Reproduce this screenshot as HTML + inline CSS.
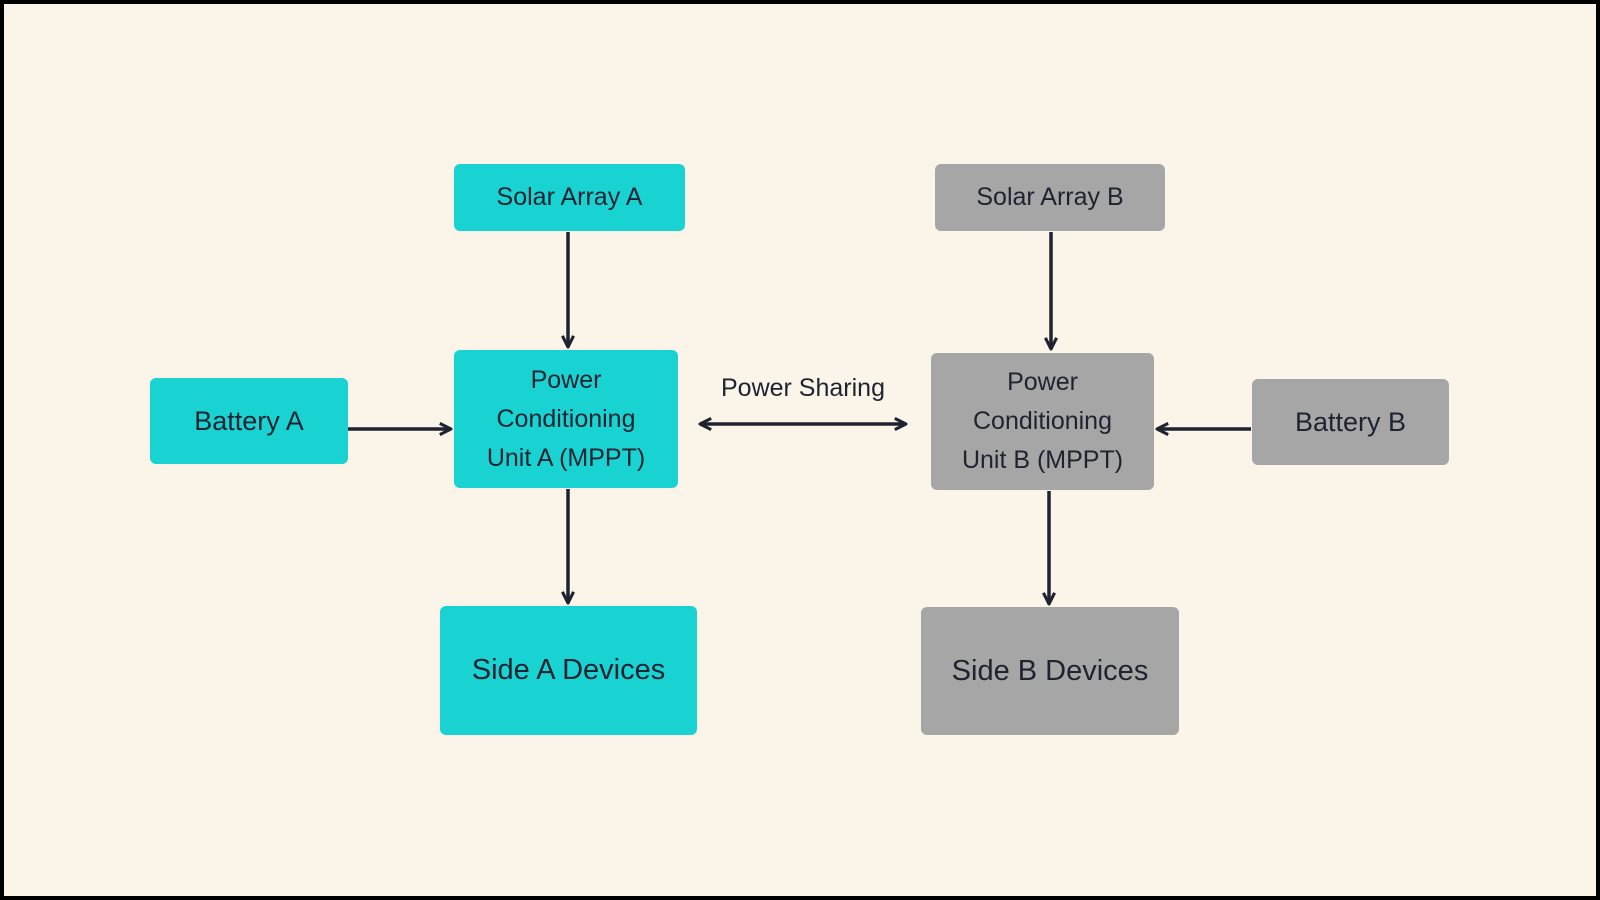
<!DOCTYPE html>
<html><head><meta charset="utf-8"><style>
body{margin:0;width:1600px;height:900px;overflow:hidden}
.f{position:absolute;left:0;top:0;width:1592px;height:892px;border:4px solid #000;background:#fbf4e9}
.b{position:absolute;display:flex;align-items:center;justify-content:center;text-align:center;border-radius:6px;font-family:"Liberation Sans",sans-serif;color:#1f2330;line-height:39px}
.c{background:#19d3d3}.g{background:#a6a6a6}
</style></head><body><div class="f"></div>
<div class="b c" style="left:454px;top:164px;width:231px;height:67px;font-size:25px">Solar Array A</div>
<div class="b g" style="left:935px;top:164px;width:230px;height:67px;font-size:25px">Solar Array B</div>
<div class="b c" style="left:150px;top:378px;width:198px;height:86px;font-size:27px">Battery A</div>
<div class="b g" style="left:1252px;top:379px;width:197px;height:86px;font-size:27px">Battery B</div>
<div class="b c" style="left:454px;top:350px;width:224px;height:138px;font-size:25px">Power<br>Conditioning<br>Unit A (MPPT)</div>
<div class="b g" style="left:931px;top:353px;width:223px;height:137px;font-size:25px">Power<br>Conditioning<br>Unit B (MPPT)</div>
<div class="b c" style="left:440px;top:606px;width:257px;height:129px;font-size:29px">Side A Devices</div>
<div class="b g" style="left:921px;top:607px;width:258px;height:128px;font-size:29px">Side B Devices</div>
<div class="b" style="left:690px;top:370px;width:226px;height:36px;font-size:25px">Power Sharing</div>
<svg style="position:absolute;left:0;top:0" width="1600" height="900">
<defs><marker id="a" viewBox="0 0 10 10" refX="9" refY="5" markerWidth="4" markerHeight="4" orient="auto-start-reverse"><path d="M1,1 L9,5 L1,9" fill="none" stroke="#1f2330" stroke-width="2.2" stroke-linejoin="round"/></marker></defs>
<g stroke="#1f2330" stroke-width="3.5" fill="none">
<line x1="568" y1="232" x2="568" y2="347" marker-end="url(#a)"/>
<line x1="1051" y1="232" x2="1051" y2="349" marker-end="url(#a)"/>
<line x1="568" y1="489" x2="568" y2="603" marker-end="url(#a)"/>
<line x1="1049" y1="491" x2="1049" y2="604" marker-end="url(#a)"/>
<line x1="348" y1="429" x2="451" y2="429" marker-end="url(#a)"/>
<line x1="1251" y1="429" x2="1157" y2="429" marker-end="url(#a)"/>
<line x1="700" y1="424" x2="906" y2="424" marker-start="url(#a)" marker-end="url(#a)"/>
</g></svg>
</body></html>
